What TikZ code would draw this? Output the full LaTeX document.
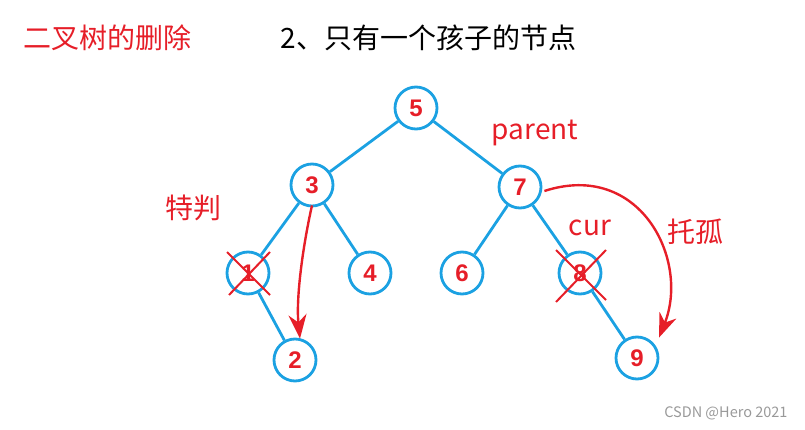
\documentclass[tikz,border=0pt]{standalone}
\usepackage{fontspec}
\setmainfont{Noto Sans CJK SC}
\newfontfamily\numfont{Liberation Sans}
\usetikzlibrary{arrows.meta,positioning}
\definecolor{treeblue}{RGB}{27,161,226}
\definecolor{markred}{RGB}{230,30,40}

\begin{document}
\begin{tikzpicture}[x=1pt, y=-1pt,
    treenode/.style={circle, draw=treeblue, line width=2.8pt, fill=white, minimum size=42pt, inner sep=0pt, text=markred, font={\numfont\bfseries\fontsize{24}{24}\selectfont}},
    edge/.style={treeblue, line width=2.8pt},
    cross/.style={markred, line width=2pt},
    move/.style={markred, line width=2.4pt, -{Stealth[length=24pt,width=18pt]}},
    note/.style={text=markred, font={\fontsize{28}{28}\selectfont}}]
    \useasboundingbox (0,0) rectangle (805,430);

    % the tree
    \node[treenode] (n5) at (416,108) {5};
    \node[treenode] (n3) at (312,185) {3};
    \node[treenode] (n7) at (520,187) {7};
    \node[treenode] (n1) at (248,273) {1};
    \node[treenode] (n4) at (370,273) {4};
    \node[treenode] (n6) at (462,273) {6};
    \node[treenode] (n8) at (580,273) {8};
    \node[treenode] (n2) at (295,360) {2};
    \node[treenode] (n9) at (637,358) {9};
    \draw[edge] (n5) -- (n3);
    \draw[edge] (n5) -- (n7);
    \draw[edge] (n3) -- (n1);
    \draw[edge] (n3) -- (n4);
    \draw[edge] (n7) -- (n6);
    \draw[edge] (n7) -- (n8);
    \draw[edge] (n1) -- (n2);
    \draw[edge] (n8) -- (n9);

    % crossed out nodes
    \draw[cross] ([shift={(-21,-21)}]n1.center) -- ([shift={(22,22)}]n1.center);
    \draw[cross] ([shift={(22,-21)}]n1.center) -- ([shift={(-19,22)}]n1.center);
    \draw[cross] ([shift={(-24,-23)}]n8.center) -- ([shift={(26,27)}]n8.center);
    \draw[cross] ([shift={(26,-23)}]n8.center) -- ([shift={(-24,29)}]n8.center);

    % red arrows
    \draw[move] ([yshift=2pt]n3.south) .. controls (302,250) and (296,300) .. ([xshift=5pt,yshift=-1pt]n2.north);
    \draw[move] ([xshift=2pt,yshift=-4pt]n7.east) .. controls (640,160) and (690,260) .. ([xshift=22pt,yshift=-2pt]n9.north);

    % texts
    \node[note, anchor=west] (title) at (20,38) {二叉树的删除};
    \node[anchor=west, font={\fontsize{28}{28}\selectfont}] (subtitle) at (277,38) {2、只有一个孩子的节点};
    \node[note] (parent) at (535,133) {parent};
    \node[note] (special) at (193,208) {特判};
    \node[note] (cur) at (590,228) {cur};
    \node[note] (entrust) at (695,232) {托孤};
    \node[text=gray!80, font={\fontsize{14.5}{14.5}\selectfont}, anchor=east] (mark) at (791,413) {CSDN @Hero 2021};
\end{tikzpicture}
\end{document}
